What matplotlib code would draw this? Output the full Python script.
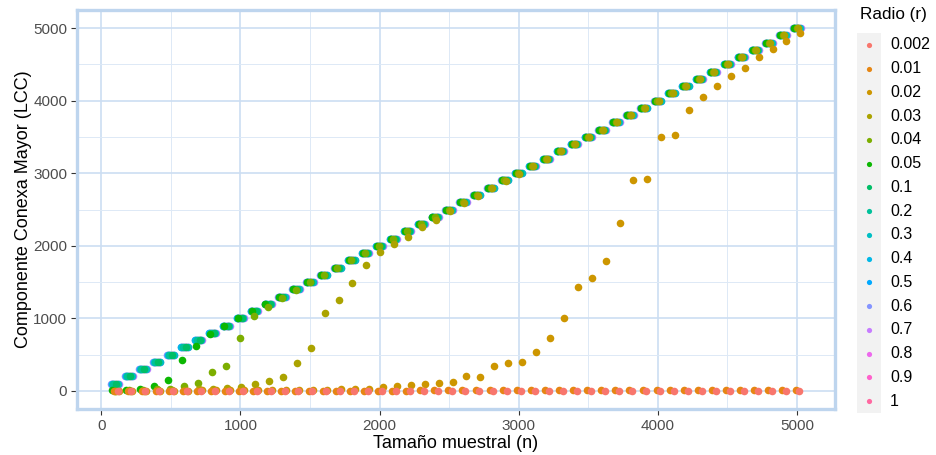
import numpy as np
import matplotlib
matplotlib.use("Agg")
import matplotlib.pyplot as plt
import matplotlib.ticker as ticker

plt.rcParams['font.family'] = ['Liberation Sans', 'DejaVu Sans']

# Radios (leyenda) y paleta por defecto de ggplot para 16 niveles
radios = ['0.002', '0.01', '0.02', '0.03', '0.04', '0.05', '0.1', '0.2',
          '0.3', '0.4', '0.5', '0.6', '0.7', '0.8', '0.9', '1']
colores = ["#F8766D", "#E68613", "#CD9600", "#ABA300", "#7CAE00", "#0CB702",
           "#00BE67", "#00C19A", "#00BFC4", "#00B8E7", "#00A9FF", "#8494FF",
           "#C77CFF", "#ED68ED", "#FF61CC", "#FF68A1"]

# Tamaños muestrales
n = [100, 200, 300, 400, 500, 600, 700, 800, 900, 1000,
     1100, 1200, 1300, 1400, 1500, 1600, 1700, 1800, 1900, 2000,
     2100, 2200, 2300, 2400, 2500, 2600, 2700, 2800, 2900, 3000,
     3100, 3200, 3300, 3400, 3500, 3600, 3700, 3800, 3900, 4000,
     4100, 4200, 4300, 4400, 4500, 4600, 4700, 4800, 4900, 5000]

# Componente conexa mayor por radio
lcc_0002 = [1, 1, 1, 1, 1, 1, 1, 1, 1, 1,
            1, 1, 1, 1, 1, 1, 1, 1, 1, 1,
            1, 1, 1, 1, 1, 1, 1, 1, 1, 1,
            1, 1, 1, 1, 1, 1, 1, 1, 1, 1,
            1, 1, 1, 1, 1, 1, 1, 1, 1, 1]
lcc_001 = [1, 2, 2, 2, 2, 2, 3, 3, 3, 3,
           3, 3, 4, 4, 4, 4, 4, 5, 5, 5,
           5, 5, 6, 6, 6, 6, 7, 7, 7, 7,
           8, 8, 8, 8, 9, 9, 9, 10, 10, 10,
           11, 11, 11, 12, 12, 12, 13, 13, 14, 14]
lcc_002 = [2, 3, 3, 4, 5, 5, 6, 7, 8, 9,
           10, 11, 12, 14, 15, 17, 19, 22, 28, 59,
           73, 82, 96, 110, 127, 210, 187, 338, 388, 393,
           530, 730, 1009, 1434, 1552, 1785, 2315, 2908, 2918, 3497,
           3525, 3877, 4050, 4196, 4338, 4452, 4598, 4708, 4822, 4927]
lcc_003 = [2, 3, 5, 7, 10, 14, 20, 25, 35, 60,
           96, 132, 187, 383, 594, 1078, 1256, 1489, 1740, 1908,
           2031, 2119, 2256, 2356, 2479, 2590, 2690, 2795, 2895, 2995,
           3100, 3200, 3300, 3400, 3500, 3600, 3700, 3800, 3900, 4000,
           4100, 4200, 4300, 4400, 4500, 4600, 4700, 4800, 4900, 5000]
lcc_004 = [3, 6, 12, 20, 30, 64, 110, 265, 347, 730,
           1035, 1150, 1280, 1390, 1495, 1598, 1700, 1800, 1900, 2000,
           2100, 2200, 2300, 2400, 2500, 2600, 2700, 2800, 2900, 3000,
           3100, 3200, 3300, 3400, 3500, 3600, 3700, 3800, 3900, 4000,
           4100, 4200, 4300, 4400, 4500, 4600, 4700, 4800, 4900, 5000]
lcc_005 = [10, 15, 27, 64, 146, 425, 621, 785, 895, 998,
           1100, 1200, 1300, 1400, 1500, 1600, 1700, 1800, 1900, 2000,
           2100, 2200, 2300, 2400, 2500, 2600, 2700, 2800, 2900, 3000,
           3100, 3200, 3300, 3400, 3500, 3600, 3700, 3800, 3900, 4000,
           4100, 4200, 4300, 4400, 4500, 4600, 4700, 4800, 4900, 5000]
# Para r >= 0.1 el grafo queda completamente conexo (LCC = n)
lcc_conexo = [100, 200, 300, 400, 500, 600, 700, 800, 900, 1000,
              1100, 1200, 1300, 1400, 1500, 1600, 1700, 1800, 1900, 2000,
              2100, 2200, 2300, 2400, 2500, 2600, 2700, 2800, 2900, 3000,
              3100, 3200, 3300, 3400, 3500, 3600, 3700, 3800, 3900, 4000,
              4100, 4200, 4300, 4400, 4500, 4600, 4700, 4800, 4900, 5000]

series = [lcc_0002, lcc_001, lcc_002, lcc_003, lcc_004, lcc_005] + [lcc_conexo] * 10

# Desplazamiento horizontal (jitter) de cada radio
desplaz = [17, -10, 24, 5, -3, -20, 9, -15, 20, -24, -6, -27, 25, 12, -21, 2]

fig = plt.figure(figsize=(9.37, 4.55), dpi=100)
ax = fig.add_axes([77 / 937, 46 / 455, 758 / 937, 399 / 455])

# Se dibuja del radio mayor al menor
todos_x = []
for i in reversed(range(len(radios))):
    x = np.array(n) + desplaz[i]
    todos_x.extend(x)
    ax.scatter(x, series[i], s=30, color=colores[i], linewidths=0, zorder=3)

# Límites con expansión del 5% (como ggplot)
xmin, xmax = min(todos_x), max(todos_x)
ax.set_xlim(xmin - 0.05 * (xmax - xmin), xmax + 0.05 * (xmax - xmin))
ax.set_ylim(-250, 5250)

ax.xaxis.set_major_locator(ticker.MultipleLocator(1000))
ax.xaxis.set_minor_locator(ticker.MultipleLocator(500))
ax.yaxis.set_major_locator(ticker.MultipleLocator(1000))
ax.yaxis.set_minor_locator(ticker.MultipleLocator(500))

ax.grid(which='major', color='#CCDEF2', linewidth=1.2)
ax.grid(which='minor', color='#DDE9F6', linewidth=0.7)
ax.set_axisbelow(True)

for sp in ax.spines.values():
    sp.set_color('#BED5EE')
    sp.set_linewidth(2.4)

ax.tick_params(which='major', direction='out', length=4, width=0.8, color='#333333',
               labelsize=11, labelcolor='#4D4D4D', pad=3)
ax.tick_params(which='minor', length=0)

ax.set_xlabel('Tamaño muestral (n)', fontsize=13, labelpad=2)
ax.set_ylabel('Componente Conexa Mayor (LCC)', fontsize=13, labelpad=1)

# Leyenda
ax_leg = fig.add_axes([857 / 937, 42 / 455, 24 / 937, 380 / 455])
ax_leg.set_facecolor('#F2F2F2')
for sp in ax_leg.spines.values():
    sp.set_visible(False)
ax_leg.set_xticks([])
ax_leg.set_yticks([])
ax_leg.set_xlim(0, 1)
ax_leg.set_ylim(len(radios) - 0.5, -0.5)
for i, r in enumerate(radios):
    ax_leg.scatter(0.5, i, s=14, color=colores[i], linewidths=0)
    ax_leg.text(1.375, i, r, va='center', ha='left', fontsize=11.5, clip_on=False)
fig.text(860 / 937, 1 - 14 / 455, 'Radio (r)', va='center', ha='left', fontsize=12.3)

fig.savefig('out.png', dpi=100)
